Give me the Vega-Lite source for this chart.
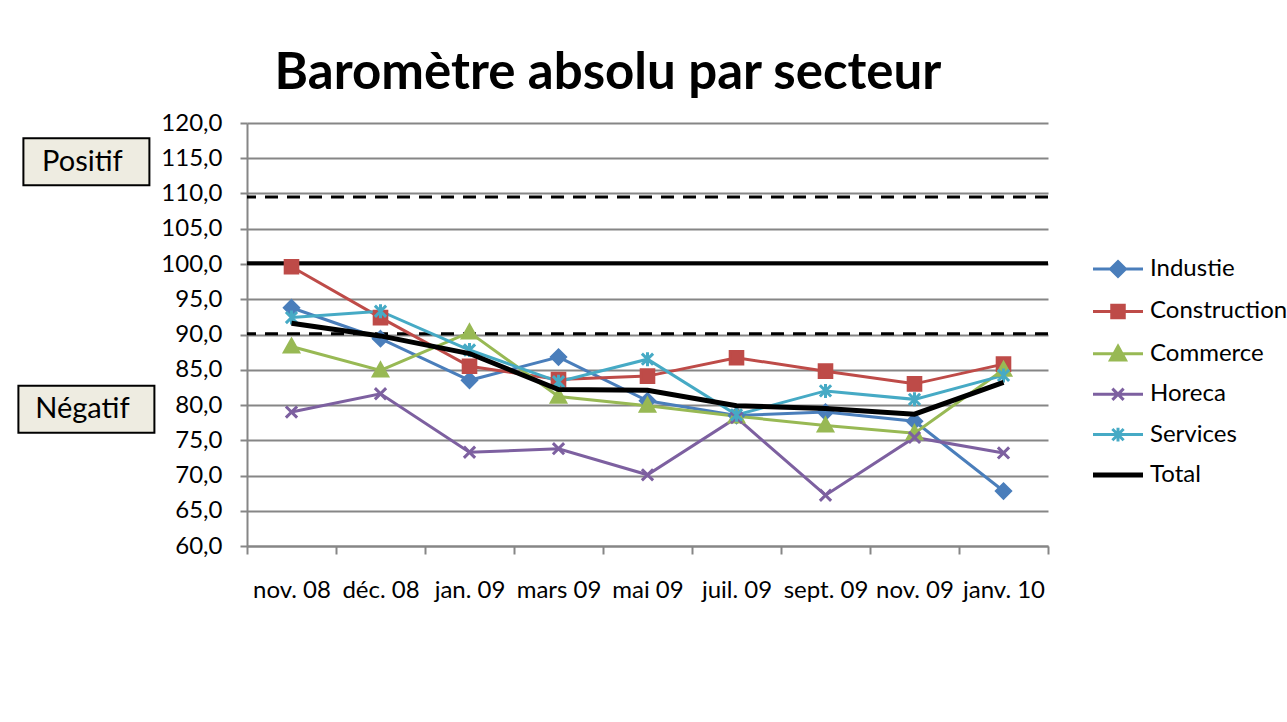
{
  "$schema": "https://vega.github.io/schema/vega-lite/v6.json",
  "background": "white",
  "padding": {"left": 0, "top": 48, "right": 0, "bottom": 0},
  "config": {"font": "Lato", "view": {"stroke": null}, "concat": {"spacing": 0},
    "axisY": {"values": [60, 65, 70, 75, 80, 85, 90, 95, 100, 105, 110, 115, 120], "labelExpr": "replace(format(datum.value, '.1f'), '.', ',')", "labelOverlap": false, "grid": true, "gridColor": "#868686", "gridWidth": 2, "domainColor": "#868686", "domainWidth": 2, "tickColor": "#868686", "tickWidth": 2, "tickSize": 7, "labelFontSize": 24, "labelPadding": 18, "labelColor": "#000000", "title": null}
  },
  "title": {"text": "Baromètre absolu par secteur", "fontSize": 51, "font": "Lato", "fontWeight": "bold", "color": "black", "anchor": "middle", "offset": 11, "dx": -36},
  "datasets": {
    "series": [
      {"month": "nov. 08", "series": "Industie", "value": 93.8},
      {"month": "déc. 08", "series": "Industie", "value": 89.4},
      {"month": "jan. 09", "series": "Industie", "value": 83.5},
      {"month": "mars 09", "series": "Industie", "value": 86.8},
      {"month": "mai 09", "series": "Industie", "value": 80.6},
      {"month": "juil. 09", "series": "Industie", "value": 78.5},
      {"month": "sept. 09", "series": "Industie", "value": 79.0},
      {"month": "nov. 09", "series": "Industie", "value": 77.7},
      {"month": "janv. 10", "series": "Industie", "value": 67.8},
      {"month": "nov. 08", "series": "Construction", "value": 99.6},
      {"month": "déc. 08", "series": "Construction", "value": 92.4},
      {"month": "jan. 09", "series": "Construction", "value": 85.5},
      {"month": "mars 09", "series": "Construction", "value": 83.6},
      {"month": "mai 09", "series": "Construction", "value": 84.1},
      {"month": "juil. 09", "series": "Construction", "value": 86.7},
      {"month": "sept. 09", "series": "Construction", "value": 84.8},
      {"month": "nov. 09", "series": "Construction", "value": 83.0},
      {"month": "janv. 10", "series": "Construction", "value": 85.8},
      {"month": "nov. 08", "series": "Commerce", "value": 88.3},
      {"month": "déc. 08", "series": "Commerce", "value": 84.9},
      {"month": "jan. 09", "series": "Commerce", "value": 90.3},
      {"month": "mars 09", "series": "Commerce", "value": 81.2},
      {"month": "mai 09", "series": "Commerce", "value": 79.9},
      {"month": "juil. 09", "series": "Commerce", "value": 78.4},
      {"month": "sept. 09", "series": "Commerce", "value": 77.1},
      {"month": "nov. 09", "series": "Commerce", "value": 76.0},
      {"month": "janv. 10", "series": "Commerce", "value": 85.0},
      {"month": "nov. 08", "series": "Horeca", "value": 79.0},
      {"month": "déc. 08", "series": "Horeca", "value": 81.6},
      {"month": "jan. 09", "series": "Horeca", "value": 73.3},
      {"month": "mars 09", "series": "Horeca", "value": 73.8},
      {"month": "mai 09", "series": "Horeca", "value": 70.1},
      {"month": "juil. 09", "series": "Horeca", "value": 78.2},
      {"month": "sept. 09", "series": "Horeca", "value": 67.2},
      {"month": "nov. 09", "series": "Horeca", "value": 75.4},
      {"month": "janv. 10", "series": "Horeca", "value": 73.2},
      {"month": "nov. 08", "series": "Services", "value": 92.4},
      {"month": "déc. 08", "series": "Services", "value": 93.3},
      {"month": "jan. 09", "series": "Services", "value": 87.8},
      {"month": "mars 09", "series": "Services", "value": 83.3},
      {"month": "mai 09", "series": "Services", "value": 86.5},
      {"month": "juil. 09", "series": "Services", "value": 78.6},
      {"month": "sept. 09", "series": "Services", "value": 82.0},
      {"month": "nov. 09", "series": "Services", "value": 80.8},
      {"month": "janv. 10", "series": "Services", "value": 84.2},
      {"month": "nov. 08", "series": "Total", "value": 91.6},
      {"month": "déc. 08", "series": "Total", "value": 89.8},
      {"month": "jan. 09", "series": "Total", "value": 87.3},
      {"month": "mars 09", "series": "Total", "value": 82.2},
      {"month": "mai 09", "series": "Total", "value": 82.1},
      {"month": "juil. 09", "series": "Total", "value": 79.9},
      {"month": "sept. 09", "series": "Total", "value": 79.5},
      {"month": "nov. 09", "series": "Total", "value": 78.7},
      {"month": "janv. 10", "series": "Total", "value": 83.2}
    ],
    "boxes": [
      {"label": "Positif", "level": 114.5},
      {"label": "Négatif", "level": 79.4}
    ]
  },
  "hconcat": [
    {
      "width": 160,
      "height": 423,
      "data": {"name": "boxes"},
      "encoding": {
        "x": {"datum": "a", "type": "nominal", "scale": {"type": "point", "align": 0.54}, "axis": null},
        "y": {"field": "level", "type": "quantitative", "scale": {"domain": [60, 120], "nice": false, "zero": false}, "axis": null}
      },
      "layer": [
        {
          "transform": [{"filter": "datum.label === 'Positif'"}],
          "mark": {"type": "point", "shape": "M-1,-0.373L1,-0.373L1,0.373L-1,0.373Z", "size": 15876, "filled": true, "fill": "#EEECE1", "stroke": "#000000", "strokeWidth": 2, "opacity": 1}
        },
        {
          "transform": [{"filter": "datum.label === 'Négatif'"}],
          "mark": {"type": "point", "shape": "M-1,-0.3456L1,-0.3456L1,0.3456L-1,0.3456Z", "size": 18496, "filled": true, "fill": "#EEECE1", "stroke": "#000000", "strokeWidth": 2, "opacity": 1}
        },
        {
          "mark": {"type": "text", "fontSize": 29, "color": "#000000", "font": "Lato", "dx": -4},
          "encoding": {"text": {"field": "label"}}
        }
      ]
    },
    {
      "width": 801,
      "height": 423,
      "data": {"name": "series"},
      "layer": [
        {
          "data": {"values": [{}]},
          "mark": {"type": "rule", "color": "#000000", "strokeWidth": 3, "strokeDash": [13, 9]},
          "encoding": {"y": {"datum": 109.5, "type": "quantitative", "scale": {"domain": [60, 120], "nice": false, "zero": false}}}
        },
        {
          "data": {"values": [{}]},
          "mark": {"type": "rule", "color": "#000000", "strokeWidth": 4},
          "encoding": {"y": {"datum": 100.1, "type": "quantitative"}}
        },
        {
          "data": {"values": [{}]},
          "mark": {"type": "rule", "color": "#000000", "strokeWidth": 3, "strokeDash": [13, 9]},
          "encoding": {"y": {"datum": 90.1, "type": "quantitative"}}
        },
        {
          "transform": [{"filter": "datum.series !== 'Total'"}],
          "mark": {"type": "line", "strokeWidth": 3},
          "encoding": {
            "x": {"field": "month", "type": "ordinal", "sort": null, "scale": {"type": "band", "paddingInner": 0, "paddingOuter": 0},
              "axis": {"title": null, "labelAngle": 0, "tickBand": "extent", "tickSize": 8, "tickColor": "#868686", "tickWidth": 2, "domainColor": "#868686", "domainWidth": 2, "labelFontSize": 24, "labelPadding": 24, "labelColor": "#000000", "grid": false, "labelOverlap": false}},
            "y": {"field": "value", "type": "quantitative", "scale": {"domain": [60, 120], "nice": false, "zero": false}},
            "color": {"field": "series", "type": "nominal",
              "scale": {"domain": ["Industie", "Construction", "Commerce", "Horeca", "Services", "Total"], "range": ["#4A7EBB", "#BE4B48", "#98B954", "#7D60A0", "#46AAC5", "#000000"]},
              "legend": {"title": null, "orient": "none", "legendX": 1106, "legendY": 134, "padding": 0, "symbolSize": 625, "labelFontSize": 24, "labelColor": "#000000", "labelOffset": 20, "rowPadding": 15.4,
                "encode": {"symbols": {"update": {
                  "shape": {"signal": "datum.value === 'Industie' ? 'M-2,0L2,0M0,-0.6L0.6,0L0,0.6L-0.6,0Z' : datum.value === 'Construction' ? 'M-2,0L2,0M-0.5,-0.5L0.5,-0.5L0.5,0.5L-0.5,0.5Z' : datum.value === 'Commerce' ? 'M-2,0L2,0M0,-0.6L0.6,0.5L-0.6,0.5Z' : datum.value === 'Horeca' ? 'M-2,0L2,0M-0.45,-0.45L0.45,0.45M-0.45,0.45L0.45,-0.45' : datum.value === 'Services' ? 'M-2,0L2,0M-0.45,-0.45L0.45,0.45M-0.45,0.45L0.45,-0.45M0,-0.55L0,0.55' : 'M-2,0L2,0'"},
                  "fill": {"signal": "datum.value === 'Industie' ? '#4A7EBB' : datum.value === 'Construction' ? '#BE4B48' : datum.value === 'Commerce' ? '#98B954' : datum.value === 'Horeca' ? '#7D60A0' : datum.value === 'Services' ? '#46AAC5' : '#000000'"},
                  "stroke": {"signal": "datum.value === 'Industie' ? '#4A7EBB' : datum.value === 'Construction' ? '#BE4B48' : datum.value === 'Commerce' ? '#98B954' : datum.value === 'Horeca' ? '#7D60A0' : datum.value === 'Services' ? '#46AAC5' : '#000000'"},
                  "strokeWidth": {"signal": "datum.value === 'Total' ? 5 : 3"},
                  "opacity": {"value": 1}
                }}}}
            }
          }
        },
        {
          "transform": [{"filter": "datum.series !== 'Total'"}],
          "mark": {"type": "point", "filled": false, "strokeWidth": 3, "size": 196, "opacity": 1},
          "encoding": {
            "x": {"field": "month", "type": "ordinal", "sort": null},
            "y": {"field": "value", "type": "quantitative"},
            "color": {"field": "series", "type": "nominal"},
            "fill": {"field": "series", "type": "nominal", "scale": {"domain": ["Industie", "Construction", "Commerce", "Horeca", "Services"], "range": ["#4A7EBB", "#BE4B48", "#98B954", "#7D60A0", "#46AAC5"]}, "legend": null},
            "shape": {"field": "series", "type": "nominal", "scale": {"domain": ["Industie", "Construction", "Commerce", "Horeca", "Services"], "range": ["M0,-1L1,0L0,1L-1,0Z", "M-0.9,-0.9L0.9,-0.9L0.9,0.9L-0.9,0.9Z", "M0,-1L1,0.8L-1,0.8Z", "M-0.8,-0.8L0.8,0.8M-0.8,0.8L0.8,-0.8", "M-0.8,-0.8L0.8,0.8M-0.8,0.8L0.8,-0.8M0,-1L0,1"]}, "legend": null}
          }
        },
        {
          "transform": [{"filter": "datum.series === 'Total'"}],
          "mark": {"type": "line", "strokeWidth": 5},
          "encoding": {
            "x": {"field": "month", "type": "ordinal", "sort": null},
            "y": {"field": "value", "type": "quantitative"},
            "color": {"field": "series", "type": "nominal"}
          }
        }
      ]
    }
  ]
}
